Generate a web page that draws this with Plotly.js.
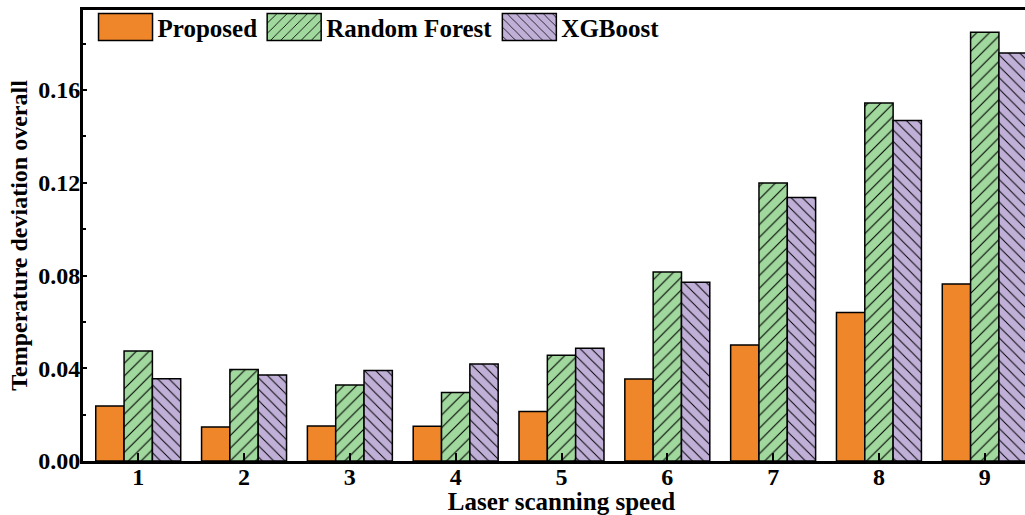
<!DOCTYPE html>
<html>
<head>
<meta charset="utf-8">
<script src="https://cdn.plot.ly/plotly-3.0.1.min.js"></script>
<style>
  html, body { margin: 0; padding: 0; background: #fff; overflow: hidden; width: 1025px; height: 515px; }
  #chart { width: 1040px; height: 515px; }
</style>
</head>
<body>
<div id="chart"></div>
<script>
// ---- data ----
const speeds = [1, 2, 3, 4, 5, 6, 7, 8, 9];
const speedLabels = ['1', '2', '3', '4', '5', '6', '7', '8', '9'];
const proposed = [0.0237, 0.0147, 0.0151, 0.0150, 0.0213, 0.0354, 0.0500, 0.0640, 0.0763];
const randomForest = [0.0474, 0.0395, 0.0328, 0.0295, 0.0456, 0.0815, 0.1199, 0.1544, 0.1849];
const xgboost = [0.0355, 0.0371, 0.0390, 0.0418, 0.0486, 0.0771, 0.1136, 0.1468, 0.1760];
const seriesNames = ['Proposed', 'Random Forest', 'XGBoost'];
const yTickVals = [0.00, 0.04, 0.08, 0.12, 0.16];
const yTickText = ['0.00', '0.04', '0.08', '0.12', '0.16'];

// ---- styles ----
const FONT = 'Liberation Serif, Times New Roman, serif';
const orange = '#F0862A';
const green = '#A0D89D';
const purple = '#C0B0D8';
const outline = { color: '#000', width: 1.5 };

const traces = [
  {
    type: 'bar', name: seriesNames[0], x: speeds, y: proposed,
    marker: { color: orange, line: outline }
  },
  {
    type: 'bar', name: seriesNames[1], x: speeds, y: randomForest,
    marker: { color: green, line: outline,
      pattern: { shape: '/', fgcolor: '#000', bgcolor: green, size: 9, solidity: 0.12 } }
  },
  {
    type: 'bar', name: seriesNames[2], x: speeds, y: xgboost,
    marker: { color: purple, line: outline,
      pattern: { shape: '\\', fgcolor: '#000', bgcolor: purple, size: 8, solidity: 0.12 } }
  }
];

const layout = {
  width: 1040, height: 515,
  margin: { l: 83, r: 0, t: 10, b: 54, autoexpand: false },
  paper_bgcolor: '#fff', plot_bgcolor: '#fff',
  font: { family: FONT, size: 24, color: '#000', weight: 'bold' },
  barmode: 'group', bargap: 0.197, bargroupgap: 0,
  showlegend: true,
  legend: {
    orientation: 'h', x: 0.011, y: 1.013, xanchor: 'left', yanchor: 'top',
    bgcolor: 'rgba(0,0,0,0)', borderwidth: 0, itemwidth: 54,
    font: { family: FONT, size: 25, color: '#000', weight: 'bold' },
    traceorder: 'normal'
  },
  xaxis: {
    range: [0.478, 9.522], tickvals: speeds, ticktext: speedLabels,
    showline: true, linecolor: '#000', linewidth: 3, mirror: true,
    ticks: 'inside', ticklen: 8, tickwidth: 2, tickcolor: '#000',
    ticklabelstandoff: -8,
    showgrid: false, zeroline: false, automargin: false,
    tickfont: { family: FONT, size: 24, color: '#000', weight: 'bold' },
    title: { text: 'Laser scanning speed', standoff: 0,
      font: { family: FONT, size: 25, color: '#000', weight: 'bold' } }
  },
  yaxis: {
    range: [0, 0.1945], tickvals: yTickVals, ticktext: yTickText,
    showline: true, linecolor: '#000', linewidth: 3,
    ticks: 'inside', ticklen: 4, tickwidth: 2, tickcolor: '#000',
    ticklabelstandoff: -5,
    minor: { dtick: 0.02, tick0: 0, ticks: 'inside', ticklen: 3, tickwidth: 2, tickcolor: '#000', showgrid: false },
    showgrid: false, zeroline: false, automargin: false,
    tickfont: { family: FONT, size: 24, color: '#000', weight: 'bold' },
    title: { text: 'Temperature deviation overall', standoff: 4,
      font: { family: FONT, size: 24, color: '#000', weight: 'bold' } }
  }
};

Plotly.newPlot('chart', traces, layout, { staticPlot: true, displayModeBar: false }).then(function (gd) {
  // enlarge legend swatches to match the reference's wide rectangles
  gd.querySelectorAll('.legend .legendpoints path').forEach(function (p) {
    p.setAttribute('d', 'M27,13.5H-27V-13.5H27Z');
  });
});
</script>
</body>
</html>
